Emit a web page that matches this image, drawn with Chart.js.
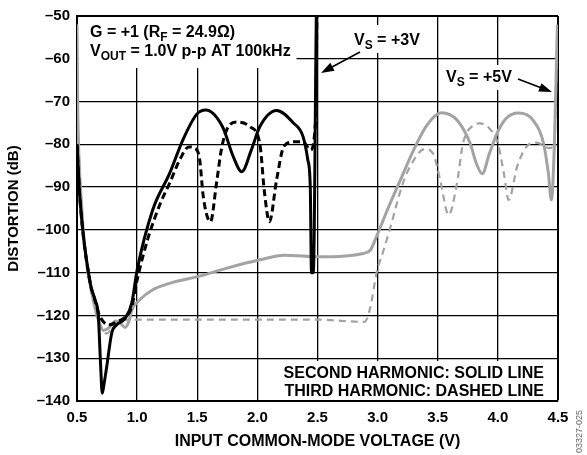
<!DOCTYPE html>
<html>
<head>
<meta charset="utf-8">
<script src="https://cdn.jsdelivr.net/npm/chart.js@4"></script>
<style>
  html, body { margin: 0; padding: 0; background: #fff; }
  #wrap { width: 587px; height: 455px; }
</style>
</head>
<body>
<div id="wrap"><canvas id="mainChart" width="587" height="455"></canvas></div>
<script>
// Tick labels
const xTicks = [0.5, 1.0, 1.5, 2.0, 2.5, 3.0, 3.5, 4.0, 4.5];
const yTicks = [-50, -60, -70, -80, -90, -100, -110, -120, -130, -140];

// VS = +3V, second harmonic (solid black)
const h2v3 = [0.50, 0.525, 0.61, 0.65, 0.677, 0.697, 0.71, 0.725, 0.747, 0.789, 0.83, 0.90, 0.955, 1.00, 1.13, 1.27, 1.38, 1.495, 1.57, 1.71, 1.80, 1.87, 1.95, 2.02, 2.16, 2.30, 2.38, 2.42, 2.44, 2.45, 2.465, 2.49];
const h2db3 = [-80, -93, -112.4, -116.4, -120, -132, -138.2, -136, -132, -124.1, -122.2, -120.7, -117.2, -109.4, -95.3, -86.8, -79, -73, -72.0, -75.9, -82.9, -86.4, -81.3, -75.9, -72.1, -75, -78.2, -83.7, -90, -110, -110, -50];

// VS = +3V, third harmonic (dashed black)
const h3v3 = [0.50, 0.525, 0.61, 0.65, 0.68, 0.72, 0.77, 0.83, 0.90, 0.955, 1.00, 1.09, 1.19, 1.27, 1.36, 1.43, 1.48, 1.52, 1.55, 1.61, 1.66, 1.70, 1.745, 1.83, 1.94, 2.02, 2.06, 2.10, 2.16, 2.22, 2.30, 2.38, 2.44, 2.485, 2.495];
const h3db3 = [-80, -93, -112.4, -116.4, -119.5, -121.5, -122.2, -121.5, -120.4, -118, -111.7, -102, -94, -89.1, -83.3, -80.6, -80.9, -83.5, -92.2, -98.1, -89.1, -81.3, -76.6, -74.8, -75.9, -79.8, -91.5, -98.1, -88.3, -80.5, -79.4, -79.4, -81.3, -74, -50];

// VS = +5V, second harmonic (solid grey)
const h2v5 = [0.50, 0.505, 0.515, 0.54, 0.566, 0.635, 0.69, 0.72, 0.77, 0.82, 0.86, 0.90, 0.93, 0.96, 1.02, 1.13, 1.27, 1.52, 1.74, 2.02, 2.22, 2.52, 2.88, 2.94, 2.99, 3.08, 3.19, 3.30, 3.41, 3.53, 3.66, 3.77, 3.82, 3.87, 3.93, 4.00, 4.07, 4.17, 4.29, 4.38, 4.42, 4.445, 4.47, 4.495];
const h2db5 = [-52, -70, -82, -95, -104.7, -116.4, -122, -123.5, -122.8, -121.3, -121.8, -122.8, -121.5, -118.5, -116.4, -114.0, -112.5, -110.8, -109.0, -107.0, -105.9, -106.3, -105.5, -104.7, -101.6, -95.4, -88.3, -81.3, -75.5, -72.6, -74.3, -79.8, -84.4, -86.9, -82.1, -77.0, -73.9, -72.7, -74.3, -79.8, -86.8, -93.0, -80, -52];

// VS = +5V, third harmonic (dashed grey)
const h3v5 = [0.50, 0.505, 0.515, 0.54, 0.566, 0.635, 0.69, 0.75, 0.80, 0.85, 0.95, 1.5, 2.0, 2.5, 2.89, 2.94, 2.99, 3.05, 3.10, 3.21, 3.30, 3.39, 3.46, 3.52, 3.59, 3.66, 3.71, 3.80, 3.85, 3.93, 4.00, 4.05, 4.09, 4.16, 4.24, 4.32, 4.43, 4.47, 4.495];
const h3db5 = [-52, -70, -82, -95, -104.7, -116.4, -122.6, -124.2, -122.5, -121.2, -121.0, -121.0, -121.0, -121.0, -121.5, -118, -110.2, -104.7, -100, -89.1, -83.7, -81.1, -82.1, -88.3, -96.5, -89.1, -79.8, -75.5, -75.1, -76.3, -79.8, -86.8, -93.0, -85.2, -80.5, -79.6, -80.9, -79, -52];

const BLACK = "#000000";
const GREY = "#a3a3a3";
const FONT = "'Liberation Sans', Arial, Helvetica, sans-serif";

function toPoints(xs, ys) {
    return xs.map((x, i) => ({ x: x, y: ys[i] }));
}

// draw text with subscripts: parts = [[text, isSub], ...]
function drawRich(ctx, x, y, parts, size) {
    let cx = x;
    parts.forEach(p => {
        const sub = p[1];
        ctx.font = "bold " + (sub ? Math.round(size * 0.75) : size) + "px " + FONT;
        ctx.fillText(p[0], cx, sub ? y + 4 : y);
        cx += ctx.measureText(p[0]).width;
    });
}

function arrow(ctx, x1, y1, x2, y2) {
    const ang = Math.atan2(y2 - y1, x2 - x1);
    const len = 13, w = 4.5;
    ctx.beginPath();
    ctx.moveTo(x1, y1);
    ctx.lineTo(x2 - Math.cos(ang) * len * 0.8, y2 - Math.sin(ang) * len * 0.8);
    ctx.lineWidth = 1.6;
    ctx.strokeStyle = BLACK;
    ctx.stroke();
    ctx.beginPath();
    ctx.moveTo(x2, y2);
    ctx.lineTo(x2 - Math.cos(ang) * len - Math.sin(ang) * w, y2 - Math.sin(ang) * len + Math.cos(ang) * w);
    ctx.lineTo(x2 - Math.cos(ang) * len + Math.sin(ang) * w, y2 - Math.sin(ang) * len - Math.cos(ang) * w);
    ctx.closePath();
    ctx.fillStyle = BLACK;
    ctx.fill();
}

// white label boxes + annotations, drawn over the grid and under the curves
const notesPlugin = {
    id: "notes",
    beforeDatasetsDraw(chart) {
        const ctx = chart.ctx;
        ctx.save();
        ctx.fillStyle = "#fff";
        ctx.fillRect(78.5, 17, 218, 51);
        ctx.fillRect(350, 25, 75, 28);
        ctx.fillRect(440, 65, 75, 25);
        ctx.fillRect(276, 361, 281, 39);

        ctx.fillStyle = BLACK;
        ctx.textBaseline = "alphabetic";
        ctx.textAlign = "left";
        drawRich(ctx, 90, 37, [["G = +1 (R", false], ["F", true], [" = 24.9\u03A9)", false]], 16);
        drawRich(ctx, 90, 56, [["V", false], ["OUT", true], [" = 1.0V p-p AT 100kHz", false]], 16);
        drawRich(ctx, 354, 45, [["V", false], ["S", true], [" = +3V", false]], 16);
        drawRich(ctx, 446, 82, [["V", false], ["S", true], [" = +5V", false]], 16);

        ctx.font = "bold 16px " + FONT;
        ctx.textAlign = "right";
        ctx.fillText("SECOND HARMONIC: SOLID LINE", 544, 378);
        ctx.fillText("THIRD HARMONIC: DASHED LINE", 544, 396);
        ctx.restore();
    },
    afterDatasetsDraw(chart) {
        const ctx = chart.ctx;
        ctx.save();
        arrow(ctx, 360, 52, 321, 73);
        arrow(ctx, 518, 79, 552, 92);

        ctx.translate(580, 455);
        ctx.rotate(-Math.PI / 2);
        ctx.font = "9px " + FONT;
        ctx.fillStyle = "#666";
        ctx.textAlign = "left";
        ctx.textBaseline = "middle";
        ctx.fillText("03327-025", 2, 0);
        ctx.restore();
    }
};

const ctx = document.getElementById("mainChart").getContext("2d");

new Chart(ctx, {
    type: "line",
    data: {
        datasets: [
            {
                label: "2nd harmonic, VS = +3V",
                data: toPoints(h2v3, h2db3),
                borderColor: BLACK,
                borderWidth: 3
            },
            {
                label: "3rd harmonic, VS = +3V",
                data: toPoints(h3v3, h3db3),
                borderColor: BLACK,
                borderWidth: 3,
                borderDash: [7, 4]
            },
            {
                label: "2nd harmonic, VS = +5V",
                data: toPoints(h2v5, h2db5),
                borderColor: GREY,
                borderWidth: 3
            },
            {
                label: "3rd harmonic, VS = +5V",
                data: toPoints(h3v5, h3db5),
                borderColor: GREY,
                borderWidth: 2.2,
                borderDash: [7, 5]
            }
        ]
    },
    options: {
        responsive: false,
        animation: false,
        devicePixelRatio: 1,
        layout: { padding: { top: 16, right: 29, left: 0, bottom: 0 } },
        elements: {
            point: { radius: 0 },
            line: { cubicInterpolationMode: "monotone", fill: false, borderJoinStyle: "round" }
        },
        plugins: {
            legend: { display: false },
            tooltip: { enabled: false }
        },
        scales: {
            x: {
                type: "linear",
                min: 0.5,
                max: 4.5,
                afterFit(s) { s.height = 54; },
                afterBuildTicks(s) { s.ticks = xTicks.map(v => ({ value: v })); },
                ticks: {
                    color: BLACK,
                    padding: 8,
                    maxRotation: 0,
                    font: { family: FONT, size: 15, weight: "bold" },
                    callback: v => v.toFixed(1)
                },
                grid: {
                    color: BLACK,
                    lineWidth: c => (c.tick && c.tick.value === 4.5 ? 2 : 1.3),
                    drawTicks: false
                },
                border: { color: BLACK, width: 2 },
                title: {
                    display: true,
                    text: "INPUT COMMON-MODE VOLTAGE (V)",
                    color: BLACK,
                    font: { family: FONT, size: 16, weight: "bold" },
                    padding: { top: 4, bottom: 4 }
                }
            },
            y: {
                type: "linear",
                min: -140,
                max: -50,
                afterFit(s) { s.width = 77; },
                afterBuildTicks(s) { s.ticks = yTicks.map(v => ({ value: v })); },
                ticks: {
                    color: BLACK,
                    padding: 7,
                    font: { family: FONT, size: 15, weight: "bold" },
                    callback: v => (v < 0 ? "\u2013" + Math.abs(v) : String(v))
                },
                grid: {
                    color: BLACK,
                    lineWidth: c => (c.tick && c.tick.value === -50 ? 2 : 1.3),
                    drawTicks: false
                },
                border: { color: BLACK, width: 2 },
                title: {
                    display: true,
                    text: "DISTORTION (dB)",
                    color: BLACK,
                    font: { family: FONT, size: 15, weight: "bold" },
                    padding: { top: 5, bottom: 4 }
                }
            }
        }
    },
    plugins: [notesPlugin]
});
</script>
</body>
</html>
